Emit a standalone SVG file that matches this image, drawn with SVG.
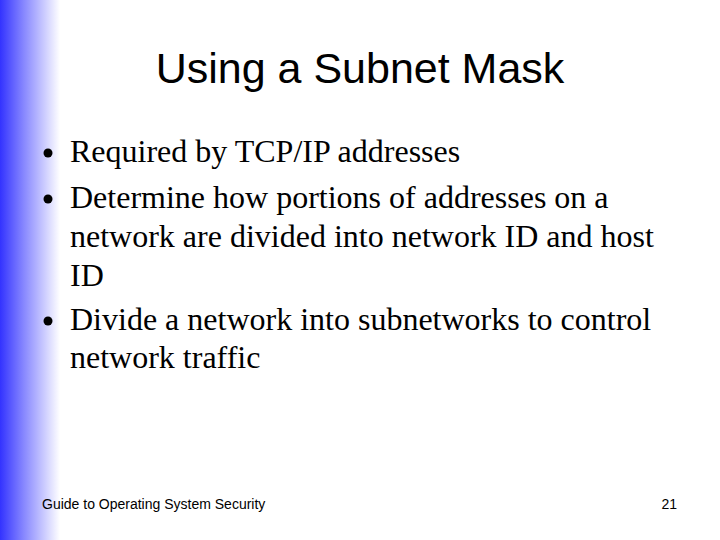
<svg xmlns="http://www.w3.org/2000/svg" width="720" height="540" viewBox="0 0 720 540">
<defs>
<linearGradient id="g" x1="0" y1="0" x2="1" y2="0">
<stop offset="0" stop-color="#3333ff"/>
<stop offset="0.4" stop-color="#8888ff"/>
<stop offset="1" stop-color="#ffffff"/>
</linearGradient>
<style>
.b{font-family:"Liberation Serif",serif;font-size:32px;fill:#000}
.f{font-family:"Liberation Sans",sans-serif;font-size:14px;fill:#000}
</style>
</defs>
<rect width="720" height="540" fill="#fff"/>
<rect width="60" height="540" fill="url(#g)"/>
<text x="360" y="83" text-anchor="middle" font-family="Liberation Sans,sans-serif" font-size="43">Using a Subnet Mask</text>
<g id="bullets" fill="#000">
<circle cx="48" cy="153" r="4.5"/>
<circle cx="48" cy="199" r="4.5"/>
<circle cx="48" cy="321" r="4.5"/>
</g>
<text class="b" x="70" y="162">Required by TCP/IP addresses</text>
<text class="b" x="70" y="208">Determine how portions of addresses on a</text>
<text class="b" x="70" y="247">network are divided into network ID and host</text>
<text class="b" x="70" y="286">ID</text>
<text class="b" x="70" y="330">Divide a network into subnetworks to control</text>
<text class="b" x="70" y="368">network traffic</text>
<text class="f" x="42" y="509">Guide to Operating System Security</text>
<text class="f" x="677" y="509" text-anchor="end">21</text>
</svg>
